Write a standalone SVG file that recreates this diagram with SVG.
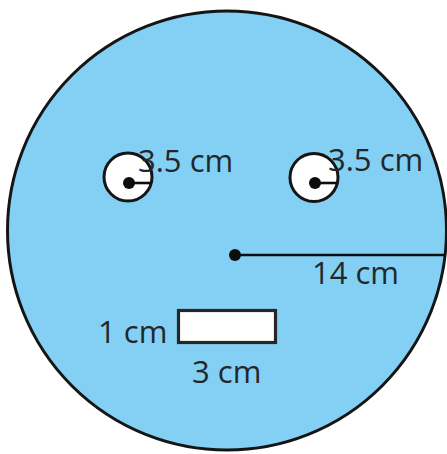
<svg xmlns="http://www.w3.org/2000/svg" width="447" height="454" viewBox="0 0 447 454">
  <style>
    .lbl { font-family: "Open Sans", "Liberation Sans", sans-serif; font-size: 31px; fill: #22272b; }
    .ol { stroke: #151515; stroke-width: 3; }
    .eye { fill: #ffffff; stroke: #151515; stroke-width: 3; }
    .dot { fill: #0d0d0d; }
    .conn { stroke: #0d0d0d; stroke-width: 2.6; fill: none; }
  </style>
  <rect x="0" y="0" width="447" height="454" fill="#ffffff"/>
  <g id="face">
    <circle cx="227" cy="230.5" r="219.5" fill="#84d0f4" class="ol"/>
  </g>
  <g id="left-eye">
    <circle cx="128" cy="177" r="24" class="eye"/>
    <circle cx="129" cy="183" r="6" class="dot"/>
  </g>
  <g id="right-eye">
    <circle cx="314" cy="177.5" r="24" class="eye"/>
    <circle cx="315" cy="183" r="6" class="dot"/>
  </g>
  <g id="center">
    <circle cx="235" cy="255" r="6" class="dot"/>
  </g>
  <g id="mouth">
    <rect x="178.5" y="310.5" width="97" height="32" fill="#ffffff" stroke="#262626" stroke-width="3.2"/>
  </g>
  <g id="connectors">
    <line x1="129" y1="183" x2="151" y2="183" class="conn"/>
    <line x1="315" y1="183" x2="337" y2="183" class="conn"/>
    <line x1="235" y1="255" x2="445" y2="255" class="conn"/>
  </g>
  <g id="labels">
    <text x="138" y="172" class="lbl">3.5 cm</text>
    <text x="328" y="171" class="lbl">3.5 cm</text>
    <text x="312" y="284" class="lbl">14 cm</text>
    <text x="98" y="343" class="lbl">1 cm</text>
    <text x="192" y="383" class="lbl">3 cm</text>
  </g>
</svg>
